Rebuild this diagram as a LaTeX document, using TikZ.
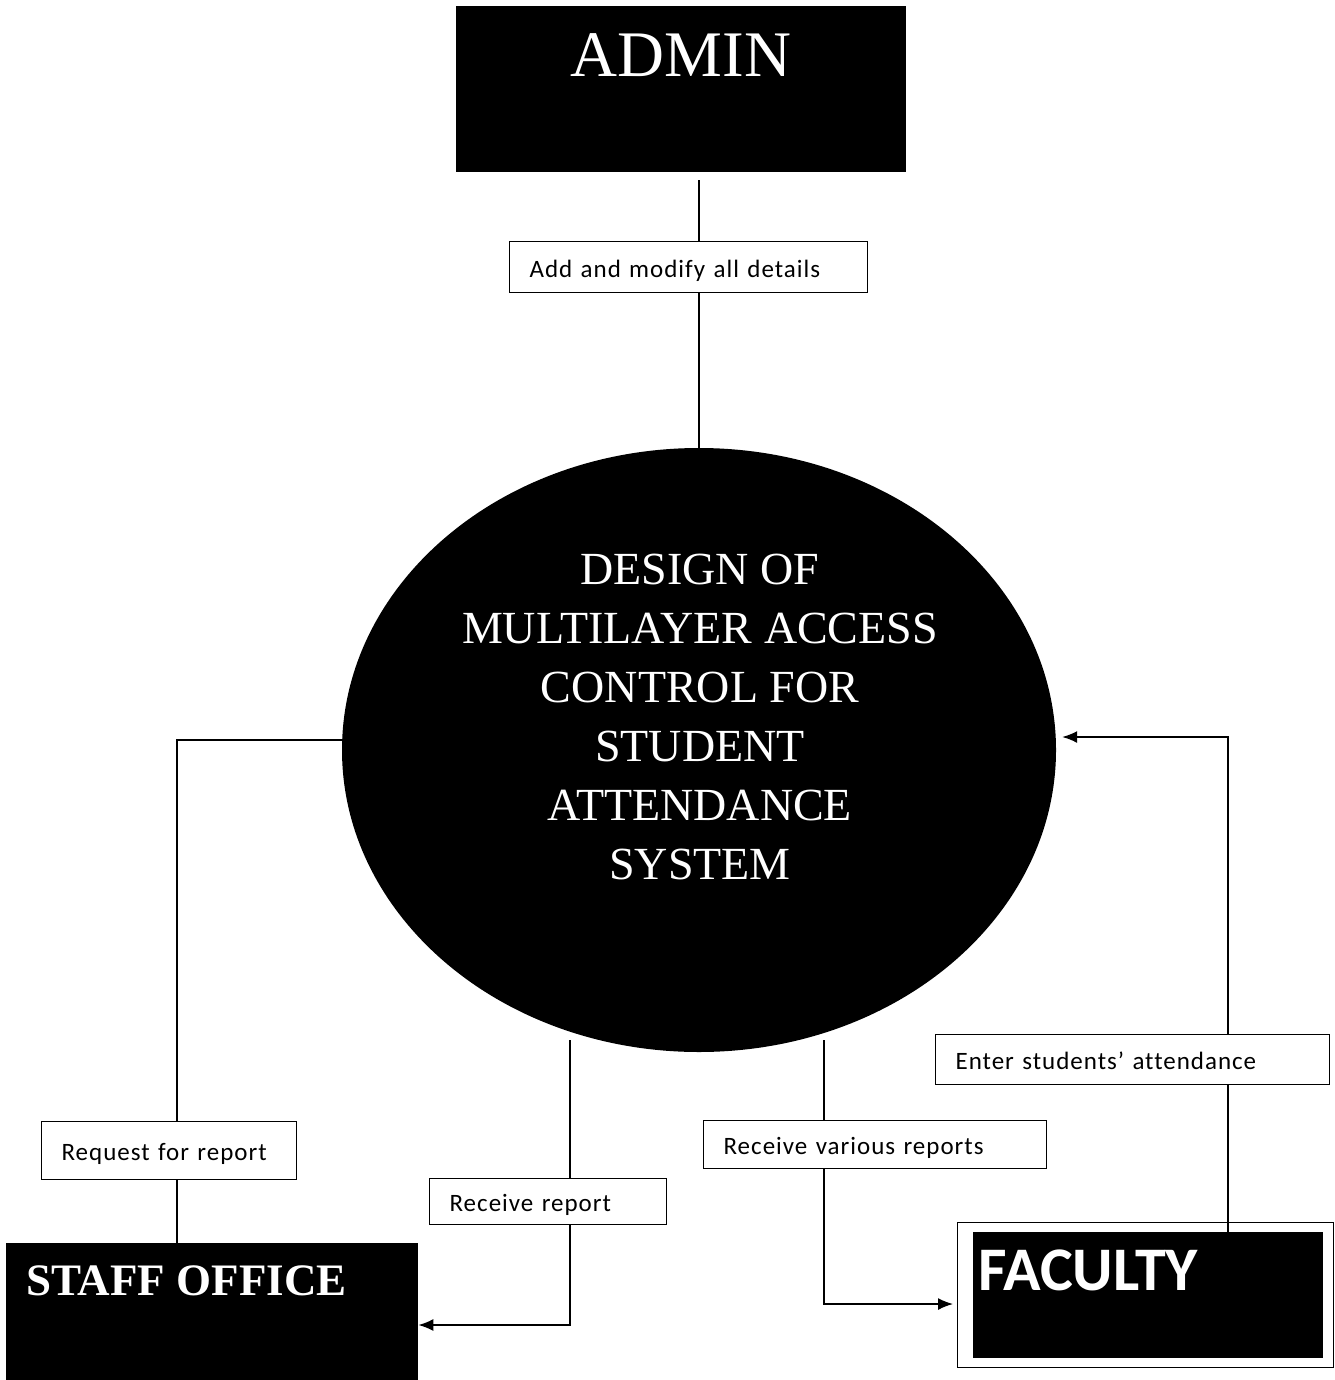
\documentclass[tikz,border=0pt]{standalone}
\usepackage{fontspec}
\setmainfont{Liberation Serif}
\newfontfamily\labfont{Carlito}[Ligatures=NoCommon,LetterSpace=4]
\newfontfamily\facfont{Carlito}[Ligatures=NoCommon]
\usetikzlibrary{arrows.meta,shapes.geometric,calc}
\begin{document}
\begin{tikzpicture}[x=1pt,y=-1pt,
  blackbox/.style={fill=black,draw=none,inner sep=0pt,anchor=north west},
  lbl/.style={draw=black,line width=1.2pt,fill=white,anchor=north west,
    inner xsep=20pt,inner ysep=0pt,align=left,text height=20pt,text depth=0pt,
    font=\labfont\fontsize{25}{28}\selectfont},
  conn/.style={line width=1.5pt},
  arr/.style={conn,-{Latex[length=15pt,width=12pt]}}]
\useasboundingbox (0,0) rectangle (1334,1380);
\fill[white] (0,0) rectangle (1334,1380);

% ADMIN
\node[blackbox,minimum width=450pt,minimum height=166pt] (admin) at (456,6) {};
\node[text=white,font=\fontsize{65}{72}\selectfont,anchor=base,inner sep=0pt] (admintxt) at (681,77) {ADMIN};

% central process
\node[ellipse,fill=black,minimum width=714pt,minimum height=604pt,inner sep=0pt] (sys) at (699,750) {};
\node[text=white,align=center,font=\fontsize{46}{59}\selectfont,inner sep=0pt] (systxt) at (700,717)
  {DESIGN OF\\MULTILAYER ACCESS\\CONTROL FOR\\STUDENT\\ATTENDANCE\\SYSTEM};

% STAFF OFFICE
\node[blackbox,minimum width=412pt,minimum height=140pt] (staff) at (6,1243) {};
\node[text=white,font=\bfseries\fontsize{45}{50}\selectfont,anchor=base west,inner sep=0pt] (stafftxt) at (26,1295) {STAFF OFFICE};

% FACULTY
\node[draw=black,line width=1pt,minimum width=376pt,minimum height=145pt,anchor=north west,inner sep=0pt] (facout) at (957,1222) {};
\node[blackbox,minimum width=350pt,minimum height=126pt] (fac) at (973,1232) {};
\node[text=white,font=\facfont\bfseries\fontsize{62}{68}\selectfont,anchor=base west,inner sep=0pt] (factxt) at (978,1290) {FACULTY};

% labels
\node[lbl,minimum width=358pt,text width=318pt,minimum height=51pt] (add) at (509,241) {Add and modify all details};
\node[lbl,minimum width=255pt,text width=215pt,minimum height=58pt] (req) at (41,1121) {Request for report};
\node[lbl,minimum width=237pt,text width=197pt,minimum height=46pt] (rep) at (429,1178) {Receive report};
\node[lbl,minimum width=343pt,text width=303pt,minimum height=48pt] (var) at (703,1120) {Receive various reports};
\node[lbl,minimum width=394pt,text width=354pt,minimum height=50pt] (ent) at (935,1034) {Enter students’ attendance};

% helper coordinates
\coordinate (lx) at (177,0);
\coordinate (rr) at (570,1040);
\coordinate (ry) at (0,1325);
\coordinate (vr) at (824,1040);
\coordinate (vy) at (0,1304);
\coordinate (ex) at (1228,0);
\coordinate (ey) at (0,737);

% connectors
\draw[conn,shorten <=8pt] (admin.south -| sys.north) -- (add.north -| sys.north);
\draw[conn] (add.south -| sys.north) -- (sys.north);

\draw[conn] ([yshift=10pt]sys.west) -| (req.north -| lx);
\draw[conn] (req.south -| lx) -- (staff.north -| lx);

\draw[conn] (rr) -- (rep.north -| rr);
\draw[arr] (rep.south -| rr) |- (staff.east |- ry);

\draw[conn] (vr) -- (var.north -| vr);
\draw[arr,shorten >=4pt] (var.south -| vr) |- (facout.west |- vy);

\draw[conn] (fac.north -| ex) -- (ent.south -| ex);
\draw[arr,shorten >=6pt] (ent.north -| ex) |- (sys.east |- ey);
\end{tikzpicture}
\end{document}
